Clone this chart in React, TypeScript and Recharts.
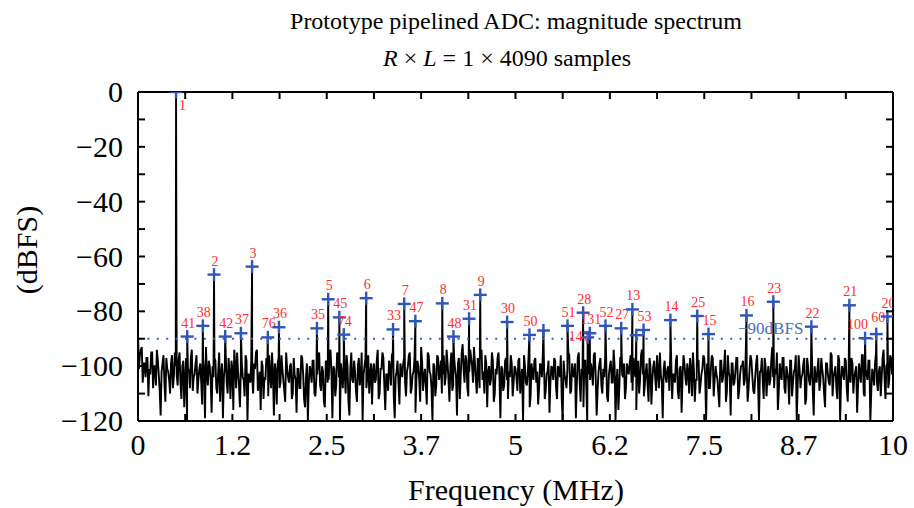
import React from 'react';
import { ComposedChart, Line, Scatter, XAxis, YAxis, ReferenceLine } from 'recharts';

const FONT = '"Liberation Serif", "Times New Roman", serif';

// labelled spurs (harmonic index), frequency in MHz and level in dBFS
const spurNames = ['1', '41', '38', '2', '42', '37', '3', '76', '36', '35', '5', '45', '74', '6', '33', '7', '47', '8', '48', '31', '9', '30', '50', '', '51', '28', '147', '131', '52', '27', '13', '', '53', '14', '25', '15', '16', '23', '22', '21', '100', '60', '20'];
const spurFreqs = [0.504, 0.652, 0.859, 1.007, 1.155, 1.363, 1.511, 1.719, 1.867, 2.37, 2.519, 2.667, 2.726, 3.022, 3.378, 3.526, 3.674, 4.03, 4.178, 4.385, 4.533, 4.889, 5.185, 5.37, 5.689, 5.896, 5.956, 5.985, 6.192, 6.4, 6.548, 6.6, 6.696, 7.052, 7.407, 7.556, 8.059, 8.415, 8.919, 9.422, 9.63, 9.778, 9.926];
const spurLevels = [0, -89.2, -85.3, -66.6, -89.2, -88.0, -63.7, -89.5, -85.8, -86.2, -75.6, -82.2, -88.5, -75.2, -86.6, -77.3, -83.6, -77.1, -89.2, -82.7, -74.0, -83.9, -88.6, -87.0, -85.3, -80.5, -89.5, -88.0, -85.3, -86.2, -79.3, -88.7, -86.8, -83.2, -81.7, -88.3, -81.5, -76.5, -85.6, -77.8, -89.8, -88.3, -81.9];

// noise floor, evenly spaced bins from 0 to 10 MHz (dBFS)
const noiseDb = [
  -88, -96, -93, -99, -104, -97, -101, -95, -108, -100, -94, -103, -118, -99, -106, -97, -102, -110, -96, -104,
  -100, -107, -95, -112, -98, -104, -120, -101, -97, -109, -103, -96, -105, -99, -114, -102, -93, -107, -100, -117,
  -104, -98, -110, -95, -103, -119, -100, -106, -97, -112, -101, -94, -108, -102, -115, -99, -105, -96, -120, -103,
  -98, -110, -101, -94, -107, -116, -100, -104, -97, -111, -103, -95, -118, -102, -99, -108, -96, -105, -113, -101,
  -106, -99, -110, -103, -117, -101, -108, -97, -112, -104, -120, -100, -106, -98, -111, -103, -95, -109, -102, -115,
  -99, -105, -94, -119, -101, -107, -96, -120, -103, -98, -110, -100, -118, -95, -106, -102, -113, -97, -104, -120,
  -100, -108, -96, -103, -114, -99, -105, -94, -110, -101, -97, -116, -103, -98, -107, -95, -119, -102, -106, -99,
  -104, -97, -111, -100, -95, -108, -102, -117, -98, -105, -93, -109, -101, -114, -96, -103, -120, -100, -107, -97,
  -102, -110, -96, -104, -99, -113, -95, -107, -101, -118, -97, -103, -92, -106, -98, -111, -94, -100, -93, -105,
  -97, -108, -94, -102, -96, -115, -100, -105, -98, -110, -103, -95, -119, -101, -107, -97, -112, -104, -99, -106,
  -101, -109, -97, -104, -120, -100, -107, -95, -111, -103, -98, -106, -114, -99, -104, -96, -109, -102, -117, -100,
  -105, -98, -112, -101, -96, -120, -103, -108, -95, -110, -99, -104, -119, -97, -106, -101, -115, -98, -120, -103,
  -99, -107, -95, -118, -102, -97, -110, -104, -96, -113, -100, -106, -94, -120, -101, -108, -97, -104, -112, -99,
  -103, -96, -109, -101, -116, -98, -105, -94, -111, -102, -107, -97, -114, -100, -104, -96, -108, -103, -119, -98,
  -106, -100, -95, -112, -103, -98, -109, -101, -117, -96, -104, -99, -110, -102, -95, -113, -105, -98, -107, -101,
  -97, -120, -103, -108, -96, -111, -100, -105, -115, -98, -104, -94, -109, -102, -118, -99, -106, -97, -112, -103,
  -100, -107, -95, -113, -101, -98, -109, -104, -96, -120, -102, -106, -97, -111, -100, -105, -93, -108, -103, -116,
  -99, -105, -97, -110, -102, -114, -98, -106, -101, -120, -96, -108, -103, -97, -112, -100, -107, -95, -118, -104,
  -101, -109, -97, -104, -115, -99, -106, -95, -111, -102, -108, -96, -120, -100, -105, -98, -113, -103, -97, -110,
  -102, -117, -99, -106, -96, -111, -103, -98, -120, -101, -107, -95, -109, -100, -104, -94, -112, -99, -105, -97,
  -101,
];

// the bins that fall halfway between the ones above
const noiseDbMid = [
  -101, -94, -106, -99, -97, -111, -103, -95, -100, -107, -98, -109, -102, -96, -113, -101, -105, -99, -108, -95,
  -103, -98, -106, -100, -115, -97, -102, -108, -94, -104, -99, -110, -101, -106, -97, -119, -103, -98, -105, -100,
  -97, -108, -102, -113, -99, -104, -96, -110, -103, -98, -116, -100, -95, -107, -101, -104, -111, -98, -103, -106,
  -104, -99, -95, -109, -102, -98, -112, -105, -100, -96, -108, -103, -99, -114, -97, -106, -101, -109, -95, -104,
  -100, -112, -97, -105, -101, -108, -96, -103, -115, -99, -106, -102, -98, -110, -104, -97, -107, -100, -113, -98,
  -106, -97, -103, -100, -111, -95, -104, -99, -108, -102, -96, -113, -101, -105, -98, -109, -100, -107, -95, -103,
  -97, -104, -110, -99, -102, -106, -98, -112, -101, -95, -107, -103, -109, -100, -96, -111, -104, -98, -114, -101,
  -99, -106, -102, -96, -110, -103, -97, -105, -100, -113, -98, -104, -107, -95, -102, -108, -99, -111, -96, -105,
  -98, -103, -107, -94, -105, -100, -109, -97, -104, -99, -112, -95, -101, -96, -108, -102, -97, -106, -99, -110,
  -103, -96, -105, -110, -99, -102, -107, -95, -113, -101, -97, -104, -100, -109, -98, -105, -102, -96, -111, -100,
  -104, -98, -110, -101, -96, -106, -103, -115, -99, -105, -97, -102, -108, -100, -95, -112, -103, -98, -106, -101,
  -97, -108, -100, -104, -112, -98, -105, -101, -96, -109, -103, -99, -106, -95, -113, -102, -98, -107, -100, -105,
  -102, -96, -104, -109, -99, -107, -101, -97, -111, -103, -98, -106, -100, -105, -116, -97, -103, -99, -108, -101,
  -99, -106, -97, -104, -101, -110, -96, -103, -107, -99, -113, -100, -105, -98, -109, -102, -95, -106, -101, -104,
  -101, -109, -98, -103, -106, -96, -112, -100, -104, -99, -107, -102, -97, -111, -101, -105, -98, -110, -103, -96,
  -104, -99, -108, -101, -97, -105, -103, -110, -98, -106, -100, -113, -96, -104, -99, -107, -102, -97, -109, -100,
  -98, -105, -101, -108, -96, -104, -110, -99, -106, -102, -97, -112, -100, -103, -107, -98, -104, -101, -95, -109,
  -103, -97, -108, -100, -105, -98, -111, -102, -96, -107, -101, -104, -99, -114, -97, -105, -102, -109, -100, -106,
  -97, -106, -101, -110, -99, -103, -107, -96, -104, -100, -112, -98, -105, -102, -97, -108, -101, -106, -99, -104,
  -100, -107, -103, -96, -110, -101, -105, -98, -109, -103, -99, -106, -102, -111, -97, -104, -100, -108, -96, -103,
];

const xTicks = [0, 1.25, 2.5, 3.75, 5, 6.25, 7.5, 8.75, 10];
const xMinorTicks = [0, 0.625, 1.25, 1.875, 2.5, 3.125, 3.75, 4.375, 5, 5.625, 6.25, 6.875, 7.5, 8.125, 8.75, 9.375, 10];
const yTicks = [-120, -110, -100, -90, -80, -70, -60, -50, -40, -30, -20, -10, 0];
const floorLevel = -90;

const spurs = spurFreqs.map((f, i) => ({ f, db: spurLevels[i], name: spurNames[i] }));
const step = 10 / (noiseDb.length - 1);
const spectrum = noiseDb
  .map((db, i) => ({ f: i * step, db }))
  .concat(noiseDbMid.map((db, i) => ({ f: (i + 0.5) * step, db })))
  .concat(spurs.map((s) => ({ f: s.f, db: s.db })))
  .sort((a, b) => a.f - b.f);

const fmtMinus = (v: number) => (v < 0 ? '\u2212' + Math.abs(v) : String(v));
const TICK_LEN = 7;

// labels that would collide with a neighbour get nudged
const labelNudge: Record<string, { dx: number; dy: number; anchor: string }> = {
  '147': { dx: 2, dy: 13, anchor: 'end' },
  '100': { dx: 3, dy: 0, anchor: 'end' },
  '60': { dx: 2, dy: -3, anchor: 'middle' },
};

const LeftTick = (props: any) => {
  const { x, y, payload } = props;
  const axisX = x + 15;
  const v = payload.value;
  return (
    <g>
      {v > -120 && v < 0 && <line x1={axisX} x2={axisX + TICK_LEN} y1={y} y2={y} stroke="#000" strokeWidth={2} />}
      {v % 20 === 0 && (
        <text x={x} y={y + 10} textAnchor="end" fontFamily={FONT} fontSize={30} fill="#000">
          {fmtMinus(v)}
        </text>
      )}
    </g>
  );
};

const RightTick = (props: any) => {
  const { x, y, payload } = props;
  if (payload.value <= -120 || payload.value >= 0) return <g />;
  return <line x1={x - TICK_LEN} x2={x} y1={y} y2={y} stroke="#000" strokeWidth={2} />;
};

const BottomTick = (props: any) => {
  const { x, y, payload } = props;
  const axisY = y - 12;
  const v = payload.value;
  const major = xTicks.includes(v);
  return (
    <g>
      {v > 0 && v < 10 && <line x1={x} x2={x} y1={axisY} y2={axisY - TICK_LEN} stroke="#000" strokeWidth={2} />}
      {major && (
        <text x={x} y={y + 22} textAnchor="middle" fontFamily={FONT} fontSize={30} fill="#000">
          {String(Math.floor(v * 10) / 10)}
        </text>
      )}
    </g>
  );
};

const TopTick = (props: any) => {
  const { x, y, payload } = props;
  if (payload.value <= 0 || payload.value >= 10) return <g />;
  return <line x1={x} x2={x} y1={y} y2={y + TICK_LEN} stroke="#000" strokeWidth={2} />;
};

const SpurMarker = (props: any) => {
  const { cx, cy, payload } = props;
  const atTop = payload.db > -1;
  const nudge = labelNudge[payload.name];
  let lx = cx + 1;
  let ly = cy - 9;
  let anchor = 'middle';
  if (atTop) {
    lx = cx + 3;
    ly = cy + 18;
    anchor = 'start';
  } else if (nudge) {
    lx = cx + nudge.dx;
    ly = cy - 9 + nudge.dy;
    anchor = nudge.anchor;
  }
  return (
    <g>
      <line x1={cx - 6.5} x2={cx + 6.5} y1={cy} y2={cy} stroke="#2f55b8" strokeWidth={2.4} />
      <line x1={cx} x2={cx} y1={cy - 6.5} y2={cy + 6.5} stroke="#2f55b8" strokeWidth={2.4} />
      {payload.name && (
        <text x={lx} y={ly} textAnchor={anchor} fontFamily={FONT} fontSize={14} fill="#ff2d2d">
          {payload.name}
        </text>
      )}
    </g>
  );
};

const FloorLabel = (props: any) => {
  const { viewBox } = props;
  return (
    <text x={viewBox.x + viewBox.width * 0.838} y={viewBox.y - 5} textAnchor="middle" fontFamily={FONT} fontSize={17} fill="#4a6cc4">
      {'\u221290dBFS'}
    </text>
  );
};

export default function App() {
  return (
    <div style={{ position: 'absolute', left: 0, top: 0, width: 914, height: 508, background: '#fff', fontFamily: FONT }}>
      <ComposedChart width={914} height={508} data={spectrum} margin={{ top: 82, right: 11, bottom: 47, left: 68 }}>
        <XAxis
          dataKey="f"
          type="number"
          domain={[0, 10]}
          ticks={xMinorTicks}
          interval={0}
          height={40}
          tickSize={0}
          tickMargin={12}
          tick={<BottomTick />}
          axisLine={{ stroke: '#000', strokeWidth: 2 }}
          allowDataOverflow
        />
        <XAxis
          xAxisId="top"
          dataKey="f"
          orientation="top"
          type="number"
          domain={[0, 10]}
          ticks={xMinorTicks}
          interval={0}
          height={10}
          tickSize={0}
          tickMargin={0}
          tick={<TopTick />}
          axisLine={{ stroke: '#000', strokeWidth: 2 }}
          allowDataOverflow
        />
        <YAxis
          type="number"
          domain={[-120, 0]}
          ticks={yTicks}
          interval={0}
          width={70}
          tickSize={0}
          tickMargin={15}
          tick={<LeftTick />}
          axisLine={{ stroke: '#000', strokeWidth: 2 }}
          allowDataOverflow
        />
        <YAxis
          yAxisId="right"
          orientation="right"
          type="number"
          domain={[-120, 0]}
          ticks={yTicks}
          interval={0}
          width={10}
          tickSize={0}
          tickMargin={0}
          tick={<RightTick />}
          axisLine={{ stroke: '#000', strokeWidth: 2 }}
          allowDataOverflow
        />
        <Line dataKey="db" stroke="#000" strokeWidth={1.9} dot={false} isAnimationActive={false} />
        <ReferenceLine y={floorLevel} stroke="#3a5fc0" strokeWidth={2} strokeDasharray="2 7.4" label={<FloorLabel />} />
        <Scatter data={spurs} dataKey="db" shape={<SpurMarker />} isAnimationActive={false} />
      </ComposedChart>
      <svg width={914} height={508} style={{ position: 'absolute', left: 0, top: 0, pointerEvents: 'none' }}>
        <text x={516} y={29} textAnchor="middle" fontFamily={FONT} fontSize={24} fill="#000">
          Prototype pipelined ADC: magnitude spectrum
        </text>
        <text x={507} y={66} textAnchor="middle" fontFamily={FONT} fontSize={24} fill="#000">
          <tspan fontStyle="italic">R</tspan>
          {' \u00d7 '}
          <tspan fontStyle="italic">L</tspan>
          {' = 1 \u00d7 4090 samples'}
        </text>
        <text x={516} y={500} textAnchor="middle" fontFamily={FONT} fontSize={30} fill="#000">
          Frequency (MHz)
        </text>
        <text x={37} y={250} textAnchor="middle" fontFamily={FONT} fontSize={30} fill="#000" transform="rotate(-90 37 250)">
          (dBFS)
        </text>
      </svg>
    </div>
  );
}
